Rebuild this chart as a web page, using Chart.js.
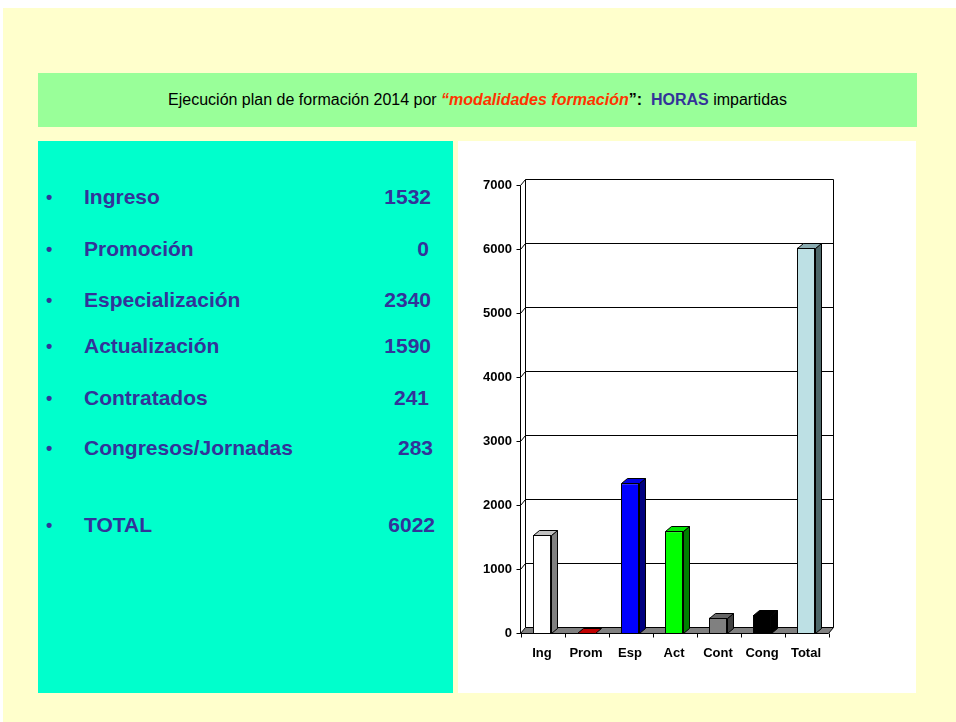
<!DOCTYPE html>
<html>
<head>
<meta charset="utf-8">
<script src="https://cdn.jsdelivr.net/npm/chart.js@4.4.0/dist/chart.umd.min.js"></script>
<style>
  html, body { margin: 0; padding: 0; background: #fff; }
  #page { position: absolute; left: 3px; top: 8px; width: 953px; height: 714px; background: #ffffcc; }
  #band { position: absolute; left: 38px; top: 73px; width: 879px; height: 54px; background: #99ff99;
          font-family: "Liberation Sans", Arial, sans-serif; font-size: 16px; color: #000;
          line-height: 54px; text-align: center; white-space: nowrap; }
  #band .mod { color: #ff3300; font-weight: bold; font-style: italic; }
  #band .hor { color: #333399; font-weight: bold; }
  #left { position: absolute; left: 38px; top: 141px; width: 415px; height: 552px; background: #00ffcc; }
  .row { position: absolute; left: 0; width: 415px; height: 30px; line-height: 30px;
         font-family: "Liberation Sans", Arial, sans-serif; font-weight: bold; font-size: 21px; color: #333399; }
  .row .bul { position: absolute; left: 8px; font-size: 18px; }
  .row .lbl { position: absolute; left: 46px; }
  .row .val { position: absolute; text-align: right; }
  #right { position: absolute; left: 458px; top: 141px; width: 458px; height: 552px; background: #fff; }
  #myChart { position: absolute; left: 0; top: 0; }
</style>
</head>
<body>
<div id="page"></div>
<div id="band">Ejecución plan de formación 2014 por <span class="mod">“modalidades formación</span><b>”:</b>&nbsp; <span class="hor">HORAS</span> impartidas</div>
<div id="left"></div>
<div id="right"><canvas id="myChart" width="458" height="552"></canvas></div>
<script>
// categories and values
var Cats = ['Ing', 'Prom', 'Esp', 'Act', 'Cont', 'Cong', 'Total'];
var Names = ['Ingreso', 'Promoción', 'Especialización', 'Actualización', 'Contratados', 'Congresos/Jornadas', 'TOTAL'];
var Horas = [1532, 0, 2340, 1590, 241, 283, 6022];
var YTicks = [0, 1000, 2000, 3000, 4000, 5000, 6000, 7000];

// list on the left (row centre y, value right edge) - page coords
var RowY = [197, 249, 300, 346, 398, 448, 525];
var ValRight = [431, 429, 431, 431, 429, 433, 435];
var left = document.getElementById('left');
for (let i = 0; i < Names.length; i++) {
  let r = document.createElement('div');
  r.className = 'row';
  r.style.top = (RowY[i] - 141 - 15) + 'px';
  r.innerHTML = '<span class="bul">•</span><span class="lbl">' + Names[i] + '</span>' +
    '<span class="val" style="right:' + (453 - ValRight[i]) + 'px">' + Horas[i] + '</span>';
  left.appendChild(r);
}

// bar styles
var FrontCol = ['#ffffff', '#990000', '#0000ff', '#00ff00', '#808080', '#000000', '#bde0e4'];
var TopCol   = ['#c0c0c0', '#c00000', '#0000e6', '#00e600', '#666666', '#000000', '#8aabb0'];
var SideCol  = ['#808080', '#800000', '#000080', '#008000', '#404040', '#000000', '#4d6769'];

var WDX = 5, WDY = 6;   // back wall offset
var BDX = 6, BDY = 5;   // bar depth

const wall3d = {
  id: 'wall3d',
  beforeDatasetsDraw(chart) {
    const c = chart.ctx, a = chart.chartArea, y = chart.scales.y;
    const L = a.left + 0.5, R = a.right + 0.5, y0 = Math.round(y.getPixelForValue(0)) + 0.5;
    const yT = Math.round(y.getPixelForValue(7000)) + 0.5;
    c.save();
    c.strokeStyle = '#000';
    c.lineWidth = 1;
    // back wall grid lines
    YTicks.forEach(v => {
      if (v == 0) return;
      let yy = Math.round(y.getPixelForValue(v)) + 0.5;
      c.beginPath();
      c.moveTo(L + WDX, yy - WDY); c.lineTo(R + WDX, yy - WDY);
      c.stroke();
      // connector from front axis to wall
      c.beginPath();
      c.moveTo(L - 4, yy); c.lineTo(L, yy); c.lineTo(L + WDX, yy - WDY);
      c.stroke();
    });
    // wall edges
    c.beginPath();
    c.moveTo(L + WDX, y0 - WDY); c.lineTo(L + WDX, yT - WDY);
    c.moveTo(R + WDX, y0 - WDY); c.lineTo(R + WDX, yT - WDY);
    c.moveTo(L, y0); c.lineTo(L, yT);
    c.moveTo(L - 4, y0); c.lineTo(L, y0);
    c.stroke();
    // floor
    c.beginPath();
    c.moveTo(L, y0); c.lineTo(R, y0); c.lineTo(R + WDX, y0 - WDY); c.lineTo(L + WDX, y0 - WDY);
    c.closePath();
    c.fillStyle = '#808080';
    c.fill();
    c.stroke();
    // category ticks
    c.beginPath();
    for (let i = 0; i <= Cats.length; i++) {
      let xx = Math.round(L + (R - L) * i / Cats.length) + 0.5;
      c.moveTo(xx, y0); c.lineTo(xx, y0 + 4);
    }
    c.stroke();
    c.restore();
  },
  afterDatasetsDraw(chart) {
    const c = chart.ctx;
    const meta = chart.getDatasetMeta(0);
    c.save();
    c.strokeStyle = '#000';
    c.lineWidth = 1;
    meta.data.forEach((el, i) => {
      const p = el.getProps(['x', 'y', 'base', 'width'], true);
      const x1 = Math.round(p.x - p.width / 2) + 0.5, x2 = Math.round(p.x + p.width / 2) + 0.5;
      const yt = Math.round(p.y) + 0.5, yb = Math.round(p.base) + 0.5;
      // side
      if (yb - yt > 0) {
        c.beginPath();
        c.moveTo(x2, yt); c.lineTo(x2 + BDX, yt - BDY); c.lineTo(x2 + BDX, yb - BDY); c.lineTo(x2, yb);
        c.closePath();
        c.fillStyle = SideCol[i];
        c.fill(); c.stroke();
      }
      // top
      c.beginPath();
      c.moveTo(x1, yt); c.lineTo(x2, yt); c.lineTo(x2 + BDX, yt - BDY); c.lineTo(x1 + BDX, yt - BDY);
      c.closePath();
      c.fillStyle = TopCol[i];
      c.fill(); c.stroke();
    });
    c.restore();
  }
};

var ctx = document.getElementById('myChart');
var chart = new Chart(ctx, {
  type: 'bar',
  data: {
    labels: Cats,
    datasets: [{
      data: Horas,
      backgroundColor: FrontCol,
      borderColor: '#000',
      borderWidth: 1,
      barPercentage: 1,
      categoryPercentage: 0.41
    }]
  },
  options: {
    responsive: false,
    animation: false,
    layout: { padding: { left: 0, right: 88, top: 44, bottom: 0 } },
    plugins: { legend: { display: false }, tooltip: { enabled: false }, title: { display: false } },
    scales: {
      x: {
        grid: { display: false, drawTicks: false },
        border: { display: false },
        ticks: { color: '#000', font: { family: 'Liberation Sans', size: 13, weight: 'bold' }, padding: 13, maxRotation: 0 },
        afterFit: s => { s.height = 60; }
      },
      y: {
        min: 0, max: 7000,
        grid: { display: false, drawTicks: false },
        border: { display: false },
        ticks: { stepSize: 1000, color: '#000', font: { family: 'Liberation Sans', size: 13, weight: 'bold' }, padding: 8,
                 callback: v => String(v) },
        afterFit: s => { s.width = 62; }
      }
    }
  },
  plugins: [wall3d]
});
</script>
</body>
</html>
